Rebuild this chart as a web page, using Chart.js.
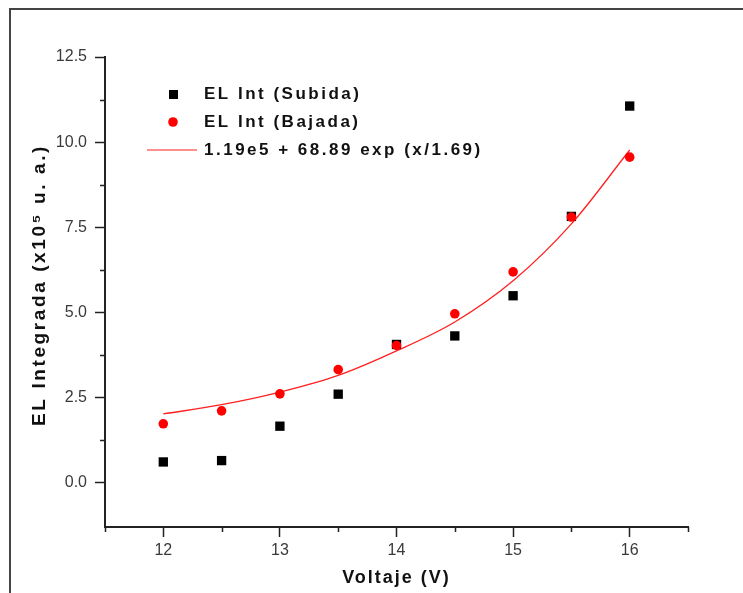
<!DOCTYPE html>
<html>
<head>
<meta charset="utf-8">
<script src="https://cdn.jsdelivr.net/npm/chart.js@4.4.1/dist/chart.umd.min.js"></script>
<style>
  html, body { margin: 0; padding: 0; background: #fff; }
  #wrap { position: relative; width: 743px; height: 593px; }
</style>
</head>
<body>
<div id="wrap"><canvas id="chart" width="743" height="593"></canvas></div>
<script>
// values (y in units of 1e5)
const voltaje = [12, 12.5, 13, 13.5, 14, 14.5, 15, 15.5, 16];
const subida = [0.61, 0.65, 1.66, 2.6, 4.06, 4.31, 5.49, 7.82, 11.06];
const bajada = [1.73, 2.11, 2.61, 3.32, 4.03, 4.96, 6.19, 7.8, 9.56];
const ajuste = [2.02, 2.29, 2.66, 3.15, 3.87, 4.72, 5.93, 7.6, 9.77];

const xTicks = [12, 13, 14, 15, 16];
const xMinor = [11.5, 12.5, 13.5, 14.5, 15.5, 16.5];
const yTicks = [0, 2.5, 5, 7.5, 10, 12.5];
const yMinor = [1.25, 3.75, 6.25, 8.75, 11.25];

const legendLabels = ['EL Int (Subida)', 'EL Int (Bajada)', '1.19e5 + 68.89 exp (x/1.69)'];
const xTitle = 'Voltaje (V)';
const yTitle = 'EL Integrada (x10\u2075 u. a.)';

const FONT = "'Liberation Sans', Arial, sans-serif";
const AXIS = '#222';

const toPoints = (xs, ys) => xs.map((x, i) => ({x: x, y: ys[i]}));

// frame, minor ticks, legend and axis titles
const extras = {
  id: 'extras',
  beforeDraw(chart) {
    const ctx = chart.ctx;
    ctx.save();
    ctx.strokeStyle = '#444';
    ctx.lineWidth = 2;
    ctx.beginPath();
    ctx.moveTo(10, 593);
    ctx.lineTo(10, 9);
    ctx.lineTo(743, 9);
    ctx.stroke();
    ctx.restore();
  },
  afterDraw(chart) {
    const ctx = chart.ctx;
    const xs = chart.scales.x;
    const ys = chart.scales.y;
    ctx.save();
    ctx.strokeStyle = AXIS;
    ctx.lineWidth = 1.5;
    ctx.beginPath();
    xMinor.forEach(v => {
      const px = Math.round(xs.getPixelForValue(v)) + 0.5;
      ctx.moveTo(px, xs.top);
      ctx.lineTo(px, xs.top + 5);
    });
    yMinor.forEach(v => {
      const py = Math.round(ys.getPixelForValue(v)) + 0.5;
      ctx.moveTo(ys.right, py);
      ctx.lineTo(ys.right - 5, py);
    });
    ctx.stroke();

    // legend
    const lx = 204;
    const rows = [94, 122, 150];
    ctx.fillStyle = '#000';
    ctx.fillRect(169, rows[0] - 4, 9, 9);
    ctx.fillStyle = '#ff0000';
    ctx.beginPath();
    ctx.arc(173, rows[1], 4.8, 0, Math.PI * 2);
    ctx.fill();
    ctx.strokeStyle = '#ff2020';
    ctx.lineWidth = 1.2;
    ctx.beginPath();
    ctx.moveTo(147, rows[2]);
    ctx.lineTo(197, rows[2]);
    ctx.stroke();

    ctx.fillStyle = '#111';
    ctx.font = 'bold 17px ' + FONT;
    ctx.letterSpacing = '2.5px';
    ctx.textBaseline = 'middle';
    ctx.textAlign = 'left';
    legendLabels.forEach((t, i) => ctx.fillText(t, lx, rows[i]));

    // axis titles
    ctx.font = 'bold 18px ' + FONT;
    ctx.letterSpacing = '2px';
    ctx.textAlign = 'center';
    ctx.fillText(xTitle, (xs.left + xs.right) / 2, 578);
    ctx.font = 'bold 19px ' + FONT;
    ctx.letterSpacing = '2.6px';
    ctx.translate(40, 285);
    ctx.rotate(-Math.PI / 2);
    ctx.fillText(yTitle, 0, 0);
    ctx.restore();
  }
};

new Chart(document.getElementById('chart'), {
  type: 'scatter',
  data: {
    datasets: [
      {
        label: legendLabels[1],
        data: toPoints(voltaje, bajada),
        pointStyle: 'circle',
        pointRadius: 4.8,
        backgroundColor: '#ff0000',
        borderColor: '#ff0000',
        borderWidth: 0,
      },
      {
        label: legendLabels[2],
        data: toPoints(voltaje, ajuste),
        showLine: true,
        cubicInterpolationMode: 'monotone',
        pointRadius: 0,
        borderColor: '#ff2020',
        borderWidth: 1.3,
        fill: false,
      },
      {
        label: legendLabels[0],
        data: toPoints(voltaje, subida),
        pointStyle: 'rect',
        pointRadius: 6.6,
        backgroundColor: '#000',
        borderColor: '#000',
        borderWidth: 0,
      },
    ],
  },
  options: {
    responsive: false,
    animation: false,
    layout: { padding: { top: 57, right: 55, left: 0, bottom: 0 } },
    plugins: {
      legend: { display: false },
      tooltip: { enabled: false },
    },
    scales: {
      x: {
        type: 'linear',
        min: 11.5,
        max: 16.5,
        afterBuildTicks: (scale) => { scale.ticks = xTicks.map(v => ({value: v})); },
        afterFit: (scale) => { scale.height = 66; },
        grid: { drawOnChartArea: false, tickLength: 10, tickColor: AXIS, tickWidth: 1.5 },
        border: { color: AXIS, width: 2 },
        ticks: { color: '#3a3a3a', font: { family: FONT, size: 16 }, padding: 4, maxRotation: 0 },
      },
      y: {
        type: 'linear',
        min: -1.3,
        max: 12.5,
        afterBuildTicks: (scale) => { scale.ticks = yTicks.map(v => ({value: v})); },
        afterFit: (scale) => { scale.width = 105; },
        grid: { drawOnChartArea: false, tickLength: 10, tickColor: AXIS, tickWidth: 1.5 },
        border: { color: AXIS, width: 2 },
        ticks: {
          color: '#3a3a3a',
          font: { family: FONT, size: 16 },
          padding: 8,
          callback: (v) => v.toFixed(1),
        },
      },
    },
  },
  plugins: [extras],
});
</script>
</body>
</html>
